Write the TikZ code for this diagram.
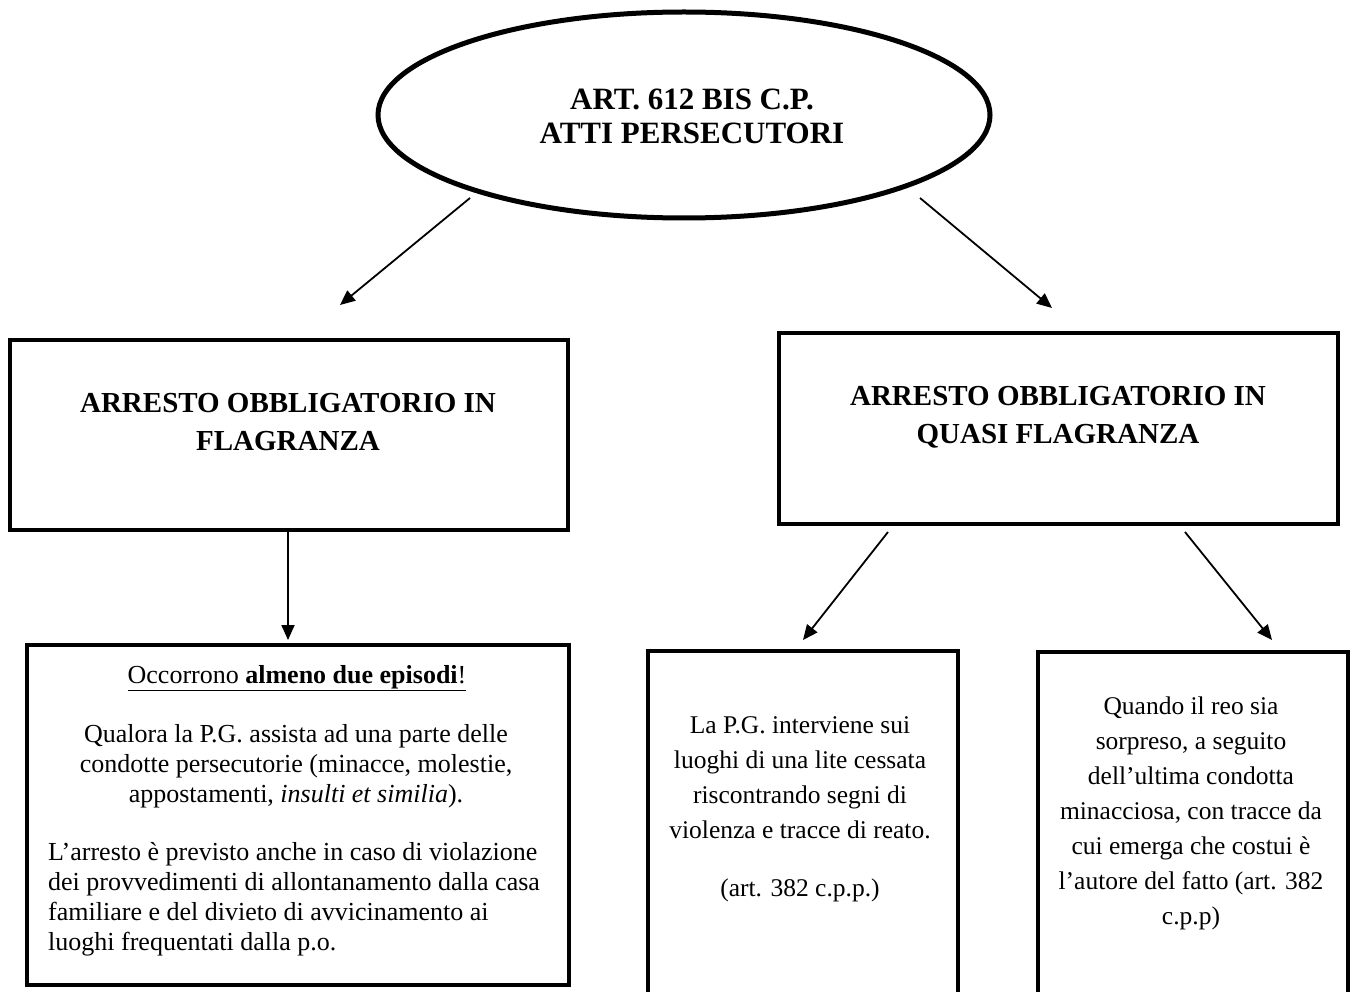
\documentclass[tikz,border=0pt]{standalone}
\usepackage{fontspec}
\setmainfont{Liberation Serif}
\usetikzlibrary{shapes.geometric,arrows.meta}
\tikzset{
  x=1pt, y=-1pt,
  frame/.style={draw, line width=4pt, rectangle, inner sep=0pt},
  oval/.style={draw, line width=5pt, ellipse, inner sep=0pt},
  link/.style={line width=1.8pt, -{Triangle[length=15pt,width=13pt]}},
  head/.style={font=\fontsize{29}{38}\selectfont\bfseries, align=center, inner sep=0pt},
  ovalhead/.style={font=\fontsize{31}{34}\selectfont\bfseries, align=center, inner sep=0pt},
  body/.style={font=\fontsize{26}{30}\selectfont, inner sep=0pt},
  narrow/.style={font=\fontsize{25.5}{35}\selectfont, align=center, inner sep=0pt},
}
\begin{document}
\begin{tikzpicture}
\useasboundingbox (0,0) rectangle (1352,992);

% top ellipse
\node[oval, minimum width=612pt, minimum height=206pt] (art) at (684,115) {};
\node[ovalhead, anchor=north] (artT) at (692,89) {ART. 612 BIS C.P.\\ATTI PERSECUTORI};

% second level boxes
\node[frame, minimum width=558pt, minimum height=190pt] (flag) at (289,435) {};
\node[head, anchor=north] (flagT) at (288,393) {ARRESTO OBBLIGATORIO IN\\FLAGRANZA};

\node[frame, minimum width=559pt, minimum height=191pt] (quasi) at (1058.5,428.5) {};
\node[head, anchor=north] (quasiT) at (1058,386) {ARRESTO OBBLIGATORIO IN\\QUASI FLAGRANZA};

% bottom boxes
\node[frame, minimum width=542pt, minimum height=340pt] (ep) at (298,815) {};
\node[body, anchor=north] (epA) at (297,665) {\underline{Occorrono \textbf{almeno due episodi}!}};
\node[body, align=center, anchor=north] (epB) at (296,724) {Qualora la P.G. assista ad una parte delle\\condotte persecutorie (minacce, molestie,\\appostamenti, \textit{insulti et similia}).};
\node[body, align=left, anchor=north west] (epC) at (48,842) {L’arresto è previsto anche in caso di violazione\\dei provvedimenti di allontanamento dalla casa\\familiare e del divieto di avvicinamento ai\\luoghi frequentati dalla p.o.};

\node[frame, minimum width=310pt, minimum height=345pt] (lite) at (803,823.5) {};
\node[narrow, anchor=north] (liteT) at (800,716) {La P.G. interviene sui\\luoghi di una lite cessata\\riscontrando segni di\\violenza e tracce di reato.\\[23pt](art. 382 c.p.p.)};

\node[frame, minimum width=310pt, minimum height=344pt] (reo) at (1193,824) {};
\node[narrow, anchor=north] (reoT) at (1191,697) {Quando il reo sia\\sorpreso, a seguito\\dell’ultima condotta\\minacciosa, con tracce da\\cui emerga che costui è\\l’autore del fatto (art. 382\\c.p.p)};

% connector end points
\coordinate (a1) at (470,198);
\coordinate (a2) at (340,305);
\coordinate (b1) at (920,198);
\coordinate (b2) at (1052,308);
\coordinate (c2) at (288,640);
\coordinate (d1) at (888,532);
\coordinate (d2) at (803,640);
\coordinate (e1) at (1185,532);
\coordinate (e2) at (1272,640);

\draw[link] (a1) -- (a2);
\draw[link] (b1) -- (b2);
\draw[link] (flag.south -| c2) -- (c2);
\draw[link] (d1) -- (d2);
\draw[link] (e1) -- (e2);
\end{tikzpicture}
\end{document}
